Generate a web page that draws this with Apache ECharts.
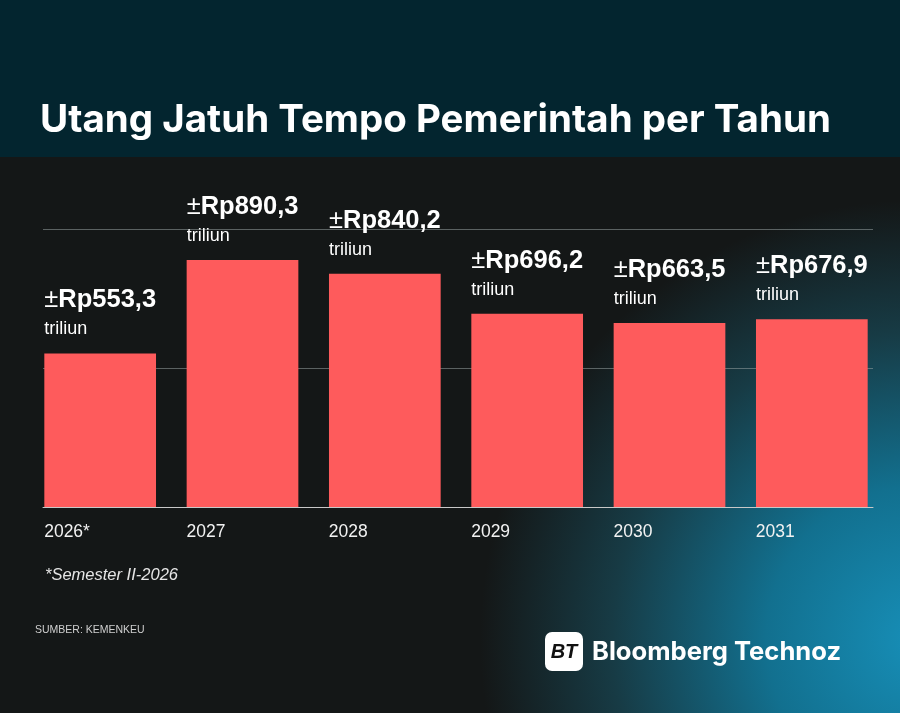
<!DOCTYPE html>
<html>
<head>
<meta charset="utf-8">
<script src="https://cdn.jsdelivr.net/npm/echarts@6/dist/echarts.min.js"></script>
<style>html,body{margin:0;padding:0;background:#141717;}#c{width:900px;height:713px;}</style>
</head>
<body>
<div id="c"></div>
<script>
const titleText = 'Utang Jatuh Tempo Pemerintah per Tahun';
const categories = ['2026*', '2027', '2028', '2029', '2030', '2031'];
const values = [553.3, 890.3, 840.2, 696.2, 663.5, 676.9];
const unitLabel = 'triliun';
const footnote = '*Semester II-2026';
const source = 'SUMBER: KEMENKEU';
const yTicks = [0, 500, 1000];

const chart = echarts.init(document.getElementById('c'), null, {renderer: 'canvas'});
const fmt = v => 'Rp' + v.toFixed(1).replace('.', ',');

const option = {
  backgroundColor: '#141717',
  animation: false,
  graphic: [
    {type: 'rect', z: -10, shape: {x: 0, y: 157, width: 900, height: 556},
      style: {fill: {type: 'radial', x: 920, y: 640, r: 440, global: true,
        colorStops: [{offset: 0, color: '#178fb8'}, {offset: 0.35, color: '#12708f'}, {offset: 0.7, color: '#173b45'}, {offset: 1, color: '#141717'}]}}},
    {type: 'rect', z: -9, shape: {x: 0, y: 0, width: 900, height: 157}, style: {fill: '#03252f'}},
    {type: 'text', z: 10, left: 40, top: 101, style: {text: titleText, fill: '#ffffff', font: 'bold 38.5px Inter', textVerticalAlign: 'top'}},
    {type: 'text', z: 10, left: 45, top: 567, style: {text: footnote, fill: '#e6e6e6', font: 'italic 16.5px "Liberation Sans"'}},
    {type: 'text', z: 10, left: 35, top: 625, style: {text: source, fill: '#cfcfcf', font: '10.5px "Liberation Sans"'}},
    {type: 'rect', z: 10, shape: {x: 545, y: 632, width: 38, height: 39, r: 7}, style: {fill: '#ffffff'}},
    {type: 'text', z: 11, x: 564, y: 652, style: {text: 'BT', fill: '#111', font: 'italic bold 20px "Liberation Sans"', textAlign: 'center', textVerticalAlign: 'middle'}},
    {type: 'text', z: 10, x: 592, y: 652, style: {text: 'Bloomberg Technoz', fill: '#ffffff', font: 'bold 25.6px Inter', textAlign: 'left', textVerticalAlign: 'middle'}}
  ],
  grid: [
    {left: 29, width: 854, top: 229.5, height: 277.5},
    {left: 43, right: 27, top: 229.5, height: 277.5}
  ],
  xAxis: [
    {type: 'category', gridIndex: 0, data: categories,
      axisLine: {show: false}, axisTick: {show: false},
      axisLabel: {margin: 16, color: '#f2f2f2', fontFamily: 'Liberation Sans', fontSize: 17.5,
        formatter: v => '{a|' + v + '}',
        rich: {a: {width: 112, align: 'left', fontSize: 17.5, color: '#f2f2f2', fontFamily: 'Liberation Sans'}}}},
    {type: 'value', gridIndex: 1, min: 0, max: 1, z: 5,
      axisLine: {show: true, lineStyle: {color: '#c8c8c8', width: 1}},
      axisTick: {show: false}, axisLabel: {show: false}, splitLine: {show: false}}
  ],
  yAxis: [
    {type: 'value', gridIndex: 0, min: yTicks[0], max: yTicks[yTicks.length - 1], interval: 500,
      axisLine: {show: false}, axisTick: {show: false}, axisLabel: {show: false}, splitLine: {show: false}},
    {type: 'value', gridIndex: 1, min: yTicks[0], max: yTicks[yTicks.length - 1], interval: 500,
      axisLine: {show: false}, axisTick: {show: false}, axisLabel: {show: false},
      splitLine: {show: true, lineStyle: {color: 'rgba(150,160,160,0.55)', width: 1}}}
  ],
  series: [{
    type: 'bar', xAxisIndex: 0, yAxisIndex: 0, data: values, barWidth: 111.7,
    itemStyle: {color: '#fe5b5c'},
    label: {show: true, position: [0, -12], align: 'left', verticalAlign: 'bottom',
      formatter: p => '{pm|±}{v|' + fmt(p.value) + '}\n{t|' + unitLabel + '}',
      rich: {
        pm: {fontFamily: 'Liberation Sans', fontWeight: 'normal', fontSize: 25.5, color: '#ffffff', lineHeight: 34},
        v: {fontFamily: 'Liberation Sans', fontWeight: 'bold', fontSize: 25.5, color: '#ffffff', lineHeight: 34},
        t: {fontFamily: 'Liberation Sans', fontSize: 18, color: '#ffffff', lineHeight: 24}
      }}
  }]
};
chart.setOption(option);
</script>
</body>
</html>
